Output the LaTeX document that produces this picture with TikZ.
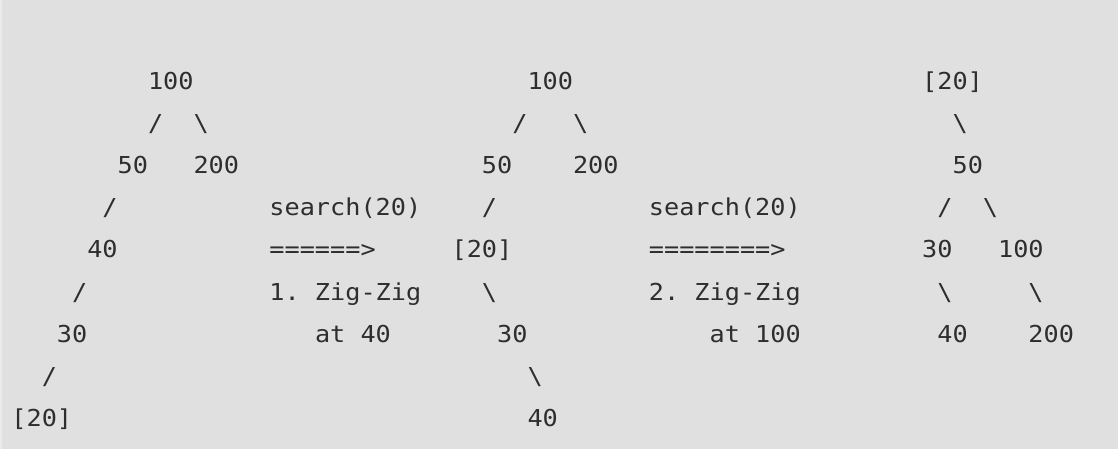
\documentclass[tikz,border=0pt]{standalone}
\usepackage{fontspec}
\newfontfamily\codefont[FakeStretch=1.082]{DejaVu Sans Mono}
\definecolor{bgcol}{HTML}{E0E0E0}
\definecolor{edgecol}{HTML}{EAEAEA}
\definecolor{txtcol}{HTML}{2E2E2E}
\newcommand\cw{15.18}
\newcommand\xo{11.4}
\newcommand\yo{80.5}
\newcommand\rh{42.2}
\newcommand\tok[4]{\node[tokstyle] (#1) at ({\xo+#2*\cw},{\yo+#3*\rh+8.5}) {#4};}
\tikzset{tokstyle/.style={anchor=base west, inner sep=0pt, outer sep=0pt, text=txtcol,
  font=\codefont\fontsize{23.3}{28}\selectfont\frenchspacing}}
\frenchspacing
\begin{document}
\begin{tikzpicture}[x=1pt,y=-1pt]
\useasboundingbox (0,0) rectangle (1118,448);
\fill[bgcol] (-5,-5) rectangle (1123,453);
\fill[edgecol] (-5,-5) rectangle (1.5,453);
% left tree
\tok{La}{9}{0}{100}
\tok{Lb}{9}{1}{/}
\tok{Lc}{12}{1}{\textbackslash}
\tok{Ld}{7}{2}{50}
\tok{Le}{12}{2}{200}
\tok{Lf}{6}{3}{/}
\tok{Lg}{5}{4}{40}
\tok{Lh}{4}{5}{/}
\tok{Li}{3}{6}{30}
\tok{Lj}{2}{7}{/}
\tok{Lk}{0}{8}{[20]}
% first step text
\tok{Ta}{17}{3}{search(20)}
\tok{Tb}{17}{4}{======>}
\tok{Tc}{17}{5}{1.\ Zig-Zig}
\tok{Td}{20}{6}{at 40}
% middle tree
\tok{Ma}{34}{0}{100}
\tok{Mb}{33}{1}{/}
\tok{Mc}{37}{1}{\textbackslash}
\tok{Md}{31}{2}{50}
\tok{Me}{37}{2}{200}
\tok{Mf}{31}{3}{/}
\tok{Mg}{29}{4}{[20]}
\tok{Mh}{31}{5}{\textbackslash}
\tok{Mi}{32}{6}{30}
\tok{Mj}{34}{7}{\textbackslash}
\tok{Mk}{34}{8}{40}
% second step text
\tok{Ua}{42}{3}{search(20)}
\tok{Ub}{42}{4}{========>}
\tok{Uc}{42}{5}{2.\ Zig-Zig}
\tok{Ud}{46}{6}{at 100}
% right tree
\tok{Ra}{60}{0}{[20]}
\tok{Rb}{62}{1}{\textbackslash}
\tok{Rc}{62}{2}{50}
\tok{Rd}{61}{3}{/}
\tok{Re}{64}{3}{\textbackslash}
\tok{Rf}{60}{4}{30}
\tok{Rg}{65}{4}{100}
\tok{Rh}{61}{5}{\textbackslash}
\tok{Ri}{67}{5}{\textbackslash}
\tok{Rj}{61}{6}{40}
\tok{Rk}{67}{6}{200}
\end{tikzpicture}
\end{document}
